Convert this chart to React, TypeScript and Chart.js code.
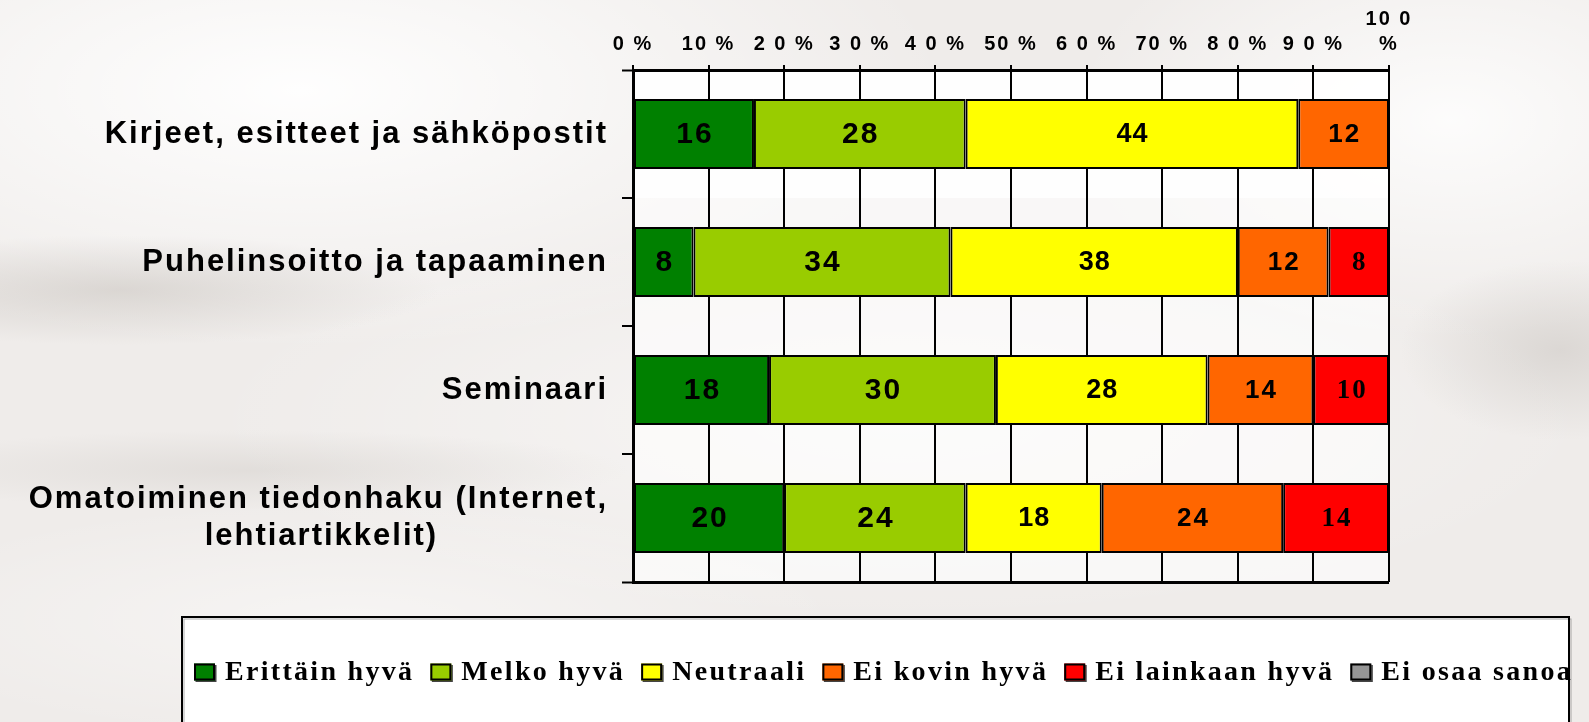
import React, { useEffect, useRef } from "react";
import { Chart, registerables } from "chart.js";

Chart.register(...registerables);

// ---------- data ----------
const categories: (string | string[])[] = [
  "Kirjeet, esitteet ja sähköpostit",
  "Puhelinsoitto ja tapaaminen",
  "Seminaari",
  ["Omatoiminen tiedonhaku (Internet,", "lehtiartikkelit)"],
];
const seriesNames = [
  "Erittäin hyvä",
  "Melko hyvä",
  "Neutraali",
  "Ei kovin hyvä",
  "Ei lainkaan hyvä",
  "Ei osaa sanoa",
];
const erittainHyva = [16, 8, 18, 20];
const melkoHyva = [28, 34, 30, 24];
const neutraali = [44, 38, 28, 18];
const eiKovinHyva = [12, 12, 14, 24];
const eiLainkaanHyva = [0, 8, 10, 14];
const eiOsaaSanoa = [0, 0, 0, 0];
const xTickLabels: (string | string[])[] = [
  "0 %", "10 %", "2 0 %", "3 0 %", "4 0 %", "50 %", "6 0 %", "70 %", "8 0 %", "9 0 %", ["10 0", "%"],
];

// ---------- styles ----------
const seriesColors = ["#008000", "#99CC00", "#FFFF00", "#FF6600", "#FF0000", "#969696"];
const labelStyles = [
  { font: 'bold 30px "Liberation Sans"', spacing: 2 },
  { font: 'bold 30px "Liberation Sans"', spacing: 2 },
  { font: 'bold 27px "Liberation Sans"', spacing: 1 },
  { font: 'bold 26px "Liberation Sans"', spacing: 2 },
  { font: 'bold 27px "Liberation Serif"', spacing: 2 },
  { font: 'bold 27px "Liberation Serif"', spacing: 2 },
];
const AXIS_SPACING = 2;
const Y_FONT_SIZE = 31;

function centerLines(lines: string[]): string[] {
  const c = document.createElement("canvas").getContext("2d") as any;
  c.font = `bold ${Y_FONT_SIZE}px "Liberation Sans"`;
  c.letterSpacing = AXIS_SPACING + "px";
  const widths = lines.map((l) => c.measureText(l).width);
  const max = Math.max(...widths);
  const sp = c.measureText("\u00a0").width;
  return lines.map((l, i) => l + "\u00a0".repeat(Math.round((max - widths[i]) / 2 / sp)));
}

const decorPlugin = {
  id: "decor",
  beforeDraw(chart: any) {
    const { ctx, width, height, chartArea: a } = chart;
    ctx.save();
    ctx.fillStyle = "#efecea";
    ctx.fillRect(0, 0, width, height);
    const blob = (x: number, y: number, rx: number, ry: number, color: string) => {
      ctx.save();
      ctx.translate(x, y);
      ctx.scale(1, ry / rx);
      const g = ctx.createRadialGradient(0, 0, 0, 0, 0, rx);
      g.addColorStop(0, color);
      g.addColorStop(1, color.replace(/[\d.]+\)$/, "0)"));
      ctx.fillStyle = g;
      ctx.fillRect(-rx, -rx, rx * 2, rx * 2);
      ctx.restore();
    };
    blob(300, 90, 650, 260, "rgba(255,255,255,0.95)");
    blob(1450, 120, 380, 220, "rgba(255,255,255,0.85)");
    blob(900, 420, 700, 200, "rgba(255,255,255,0.5)");
    blob(350, 620, 500, 120, "rgba(255,255,255,0.45)");
    blob(120, 290, 320, 55, "rgba(190,184,178,0.45)");
    blob(1560, 350, 160, 90, "rgba(195,190,185,0.45)");
    blob(250, 470, 380, 40, "rgba(200,195,190,0.35)");
    ctx.fillStyle = "rgba(255,255,255,0.6)";
    ctx.fillRect(a.left, a.top, a.right - a.left, a.bottom - a.top);
    const band = (a.bottom - a.top) / categories.length;
    ctx.fillStyle = "rgba(255,255,255,0.8)";
    ctx.fillRect(a.left, a.top, a.right - a.left, band);
    ctx.restore();
    ctx.letterSpacing = AXIS_SPACING + "px";
  },
  afterDatasetsDraw(chart: any) {
    const ctx = chart.ctx;
    chart.data.datasets.forEach((ds: any, di: number) => {
      const meta = chart.getDatasetMeta(di);
      const st = labelStyles[di];
      meta.data.forEach((el: any, i: number) => {
        const v = ds.data[i];
        if (!v) return;
        const txt = String(v);
        const cx = (el.x + el.base) / 2;
        ctx.save();
        ctx.font = st.font;
        ctx.letterSpacing = st.spacing + "px";
        ctx.fillStyle = "#000";
        ctx.textBaseline = "middle";
        ctx.textAlign = "left";
        const w = ctx.measureText(txt).width - st.spacing;
        ctx.fillText(txt, cx - w / 2, el.y + 1);
        ctx.restore();
      });
    });
  },
  afterDraw(chart: any) {
    const { ctx, chartArea: a } = chart;
    ctx.letterSpacing = "0px";
    const opts = chart.options.plugins.decor;
    const left = opts.boxLeft;
    const top = a.bottom + opts.boxGap;
    const right = chart.width - opts.boxRightGap;
    ctx.save();
    ctx.fillStyle = "#ffffff";
    ctx.fillRect(left, top, right - left, 200);
    ctx.strokeStyle = "rgba(120,120,120,0.6)";
    ctx.lineWidth = 1;
    ctx.strokeRect(left + 2, top + 2, right - left, 200);
    ctx.strokeStyle = "#000";
    ctx.lineWidth = 2;
    ctx.strokeRect(left, top, right - left, 200);
    ctx.font = 'bold 28px "Liberation Serif"';
    ctx.letterSpacing = "2.3px";
    ctx.textBaseline = "middle";
    ctx.textAlign = "left";
    let x = left + 12;
    const cy = top + 55;
    chart.data.datasets.forEach((ds: any) => {
      ctx.fillStyle = "#444";
      ctx.fillRect(x + 1.5, cy - 7, 21, 17);
      ctx.fillStyle = ds.backgroundColor;
      ctx.fillRect(x, cy - 8.5, 21, 17);
      ctx.strokeStyle = "#000";
      ctx.lineWidth = 2;
      ctx.strokeRect(x + 1, cy - 7.5, 19, 15);
      x += 21 + 10;
      ctx.fillStyle = "#000";
      ctx.fillText(ds.label, x, cy + 1);
      x += ctx.measureText(ds.label).width - 2 + 18;
    });
    ctx.restore();
  },
};

const isOuter = (c: any) => c.type !== "tick" || c.index === 0;

export default function App() {
  const ref = useRef<HTMLCanvasElement>(null);
  useEffect(() => {
    const seriesData = [erittainHyva, melkoHyva, neutraali, eiKovinHyva, eiLainkaanHyva, eiOsaaSanoa];
    const chart = new Chart(ref.current as HTMLCanvasElement, {
      type: "bar",
      data: {
        labels: categories as any,
        datasets: seriesData.map((d, i) => ({
          label: seriesNames[i],
          data: d.map((v) => (v ? v : null)),
          backgroundColor: seriesColors[i],
          borderColor: "#000",
          borderWidth: 2,
          borderSkipped: false,
          barPercentage: 0.547,
          categoryPercentage: 1,
        })),
      },
      options: {
        indexAxis: "y",
        responsive: false,
        animation: false,
        devicePixelRatio: 1,
        layout: { padding: { left: 0, right: 200, top: 0, bottom: 140 } },
        plugins: {
          legend: { display: false },
          tooltip: { enabled: false },
          decor: { boxLeft: 182, boxGap: 35, boxRightGap: 20 },
        } as any,
        scales: {
          x: {
            type: "linear",
            position: "top",
            stacked: true,
            min: 0,
            max: 100,
            ticks: {
              stepSize: 10,
              autoSkip: false,
              maxRotation: 0,
              minRotation: 0,
              padding: 8,
              color: "#000",
              font: { family: "Liberation Sans", weight: "bold", size: 20, lineHeight: 1.25 },
              callback: (_v: any, i: number) => xTickLabels[i],
            },
            grid: { color: "#000", lineWidth: 2, tickLength: 5, drawTicks: true },
            border: { color: "#000", width: 3 },
            afterFit: (s: any) => {
              s.height = 70;
            },
          },
          y: {
            type: "category",
            stacked: true,
            ticks: {
              autoSkip: false,
              padding: 14,
              color: "#000",
              font: { family: "Liberation Sans", weight: "bold", size: Y_FONT_SIZE, lineHeight: 1.2 },
              callback: (_v: any, i: number) => {
                const l = categories[i];
                return Array.isArray(l) ? centerLines(l) : l;
              },
            },
            grid: {
              offset: true,
              drawTicks: true,
              tickLength: 11,
              tickColor: "#000",
              tickWidth: 2,
              color: (c: any) => (isOuter(c) ? "#000" : "rgba(0,0,0,0)"),
              lineWidth: (c: any) => (isOuter(c) ? 3 : 0),
            },
            border: { color: "#000", width: 3 },
            afterFit: (s: any) => {
              s.width = 633;
            },
          },
        },
      } as any,
      plugins: [decorPlugin as any],
    });
    return () => chart.destroy();
  }, []);
  return (
    <div style={{ position: "absolute", left: 0, top: 0, width: 1589, height: 722, overflow: "hidden" }}>
      <canvas ref={ref} width={1589} height={722} style={{ display: "block" }} />
    </div>
  );
}
